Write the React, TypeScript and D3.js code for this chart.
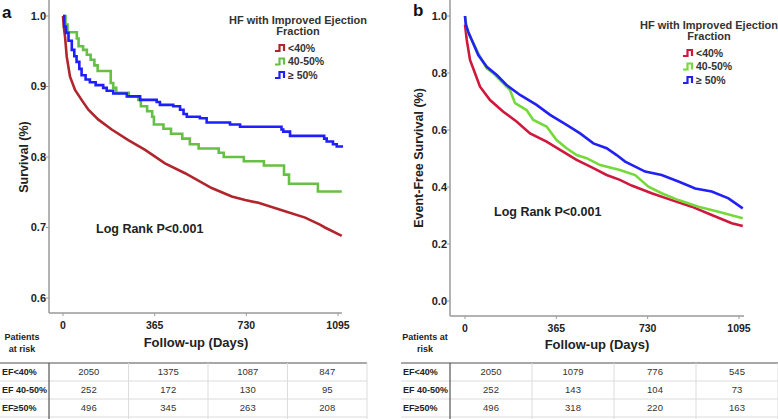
import * as React from 'react';
import * as d3 from 'd3';

type Pt = [number, number];

// follow-up ticks and labels
const dayTicks = [0, 365, 730, 1095];
const groupLabels = ['<40%', '40-50%', '\u2265 50%'];
const rowLabels = ['EF<40%', 'EF 40-50%', 'EF\u226550%'];
const survTicksA = [0.6, 0.7, 0.8, 0.9, 1.0];
const efsTicksB = [0, 0.2, 0.4, 0.6, 0.8, 1.0];

// panel a: overall survival
const survA_lt40: Pt[] = [
  [0, 1.0], [3, 0.985], [8, 0.971], [15, 0.942], [28, 0.914], [48, 0.895], [74, 0.881],
  [101, 0.867], [141, 0.853], [194, 0.839], [260, 0.824], [327, 0.81], [406, 0.791],
  [486, 0.777], [592, 0.756], [672, 0.744], [725, 0.739], [778, 0.735], [884, 0.723],
  [964, 0.714], [1023, 0.704], [1043, 0.7], [1110, 0.688],
];
const survA_40to50: Pt[] = [
  [0, 1.0], [10, 0.988], [18, 0.977], [55, 0.968], [62, 0.957], [80, 0.952], [95, 0.945],
  [110, 0.938], [125, 0.93], [138, 0.922], [190, 0.905], [200, 0.898], [212, 0.891],
  [262, 0.886], [300, 0.881], [310, 0.872], [335, 0.865], [355, 0.857], [362, 0.846],
  [400, 0.84], [430, 0.833], [475, 0.826], [505, 0.818], [540, 0.812], [620, 0.806],
  [640, 0.8], [720, 0.794], [800, 0.788], [880, 0.775], [900, 0.762], [1015, 0.751],
  [1110, 0.751],
];
const survA_ge50: Pt[] = [
  [0, 1.0], [5, 0.985], [12, 0.976], [22, 0.965], [35, 0.952], [45, 0.943], [54, 0.935],
  [65, 0.925], [74, 0.916], [90, 0.91], [107, 0.906], [130, 0.902], [160, 0.898],
  [174, 0.894], [200, 0.89], [254, 0.886], [307, 0.881], [373, 0.878], [386, 0.874],
  [439, 0.872], [466, 0.867], [480, 0.861], [493, 0.857], [545, 0.855], [572, 0.849],
  [665, 0.846], [705, 0.843], [870, 0.839], [877, 0.836], [904, 0.83], [1040, 0.826],
  [1050, 0.822], [1075, 0.818], [1090, 0.815], [1110, 0.813],
];

// panel b: event-free survival
const efsB_lt40: Pt[] = [
  [0, 0.97], [7, 0.916], [20, 0.846], [40, 0.799], [60, 0.752], [100, 0.705], [153, 0.664],
  [207, 0.629], [260, 0.588], [326, 0.559], [380, 0.53], [446, 0.495], [513, 0.466],
  [566, 0.442], [619, 0.425], [666, 0.405], [746, 0.378], [826, 0.354], [906, 0.331],
  [986, 0.302], [1066, 0.273], [1110, 0.263],
];
const efsB_40to50: Pt[] = [
  [0, 1.0], [5, 0.97], [13, 0.939], [27, 0.916], [60, 0.857], [87, 0.816], [113, 0.799],
  [153, 0.764], [180, 0.74], [200, 0.694], [246, 0.67], [273, 0.635], [326, 0.612],
  [366, 0.565], [406, 0.536], [446, 0.512], [486, 0.501], [540, 0.477], [619, 0.46],
  [680, 0.442], [733, 0.401], [786, 0.378], [853, 0.354], [933, 0.331], [1013, 0.313],
  [1110, 0.29],
];
const efsB_ge50: Pt[] = [
  [0, 1.0], [3, 0.97], [13, 0.945], [27, 0.916], [53, 0.863], [87, 0.822], [127, 0.793],
  [166, 0.758], [220, 0.723], [286, 0.688], [340, 0.653], [406, 0.618], [460, 0.588],
  [513, 0.553], [566, 0.536], [606, 0.512], [640, 0.489], [720, 0.454], [786, 0.442],
  [853, 0.419], [920, 0.395], [986, 0.384], [1053, 0.36], [1110, 0.325],
];

// patients at risk
const riskA_lt40 = [2050, 1375, 1087, 847];
const riskA_40to50 = [252, 172, 130, 95];
const riskA_ge50 = [496, 345, 263, 208];
const riskB_lt40 = [2050, 1079, 776, 545];
const riskB_40to50 = [252, 143, 104, 73];
const riskB_ge50 = [496, 318, 220, 163];

const font = '"Liberation Sans", Arial, Helvetica, sans-serif';
const txt = '#222';
const axisGray = '#9a9a9a';

interface Curve {
  data: Pt[];
  color: string;
  step: boolean;
}

interface PanelCfg {
  letter: string;
  letterPos: [number, number];
  yTitle: string;
  yTitlePos: [number, number];
  yDomain: [number, number];
  yRange: [number, number];
  yTicks: number[];
  xRange: [number, number];
  axisX: number;
  axisBottom: number;
  axisRight: number;
  curves: Curve[];
  legend: [number, number, number];
  logRank: [number, number];
  xTitle: [number, number];
  riskLines: string[];
  riskPos: [number, number];
  tableLeft: number;
  tableCol: number;
  tableRight: number;
  tableTop: number;
  risk: number[][];
}

const Panel = ({ cfg }: { cfg: PanelCfg }) => {
  const x = d3.scaleLinear().domain([0, 1095]).range(cfg.xRange);
  const y = d3.scaleLinear().domain(cfg.yDomain).range(cfg.yRange);
  const cols = d3.scaleBand<number>().domain([0, 1, 2, 3]).range([cfg.tableCol, cfg.tableRight]);
  const rows = d3.scaleBand<number>().domain([0, 1, 2]).range([cfg.tableTop, cfg.tableTop + 54]);
  const fmt = d3.format('.1f');
  const [lx, ly, ltx] = cfg.legend;

  return (
    <g fontFamily={font}>
      <text x={cfg.letterPos[0]} y={cfg.letterPos[1]} fontSize={17} fontWeight="bold" fill="#111">
        {cfg.letter}
      </text>

      {/* axes */}
      <line x1={cfg.axisX} x2={cfg.axisX} y1={0} y2={cfg.axisBottom} stroke={axisGray} strokeWidth={1.5} />
      <line x1={cfg.axisX} x2={cfg.axisRight} y1={cfg.axisBottom} y2={cfg.axisBottom} stroke={axisGray} strokeWidth={1.5} />
      {cfg.yTicks.map((t) => (
        <g key={t}>
          <line x1={cfg.axisX - 3} x2={cfg.axisX} y1={y(t)} y2={y(t)} stroke={axisGray} />
          <text x={cfg.axisX - 3} y={y(t)} dy="0.35em" textAnchor="end" fontSize={11} fontWeight="bold" fill={txt}>
            {fmt(t)}
          </text>
        </g>
      ))}
      {dayTicks.map((t) => (
        <g key={t}>
          <line x1={x(t)} x2={x(t)} y1={cfg.axisBottom} y2={cfg.axisBottom + 3} stroke={axisGray} />
          <text x={x(t)} y={cfg.axisBottom + 16} textAnchor="middle" fontSize={10.5} fontWeight="bold" fill={txt}>
            {t}
          </text>
        </g>
      ))}
      <text
        transform={`translate(${cfg.yTitlePos[0]},${cfg.yTitlePos[1]}) rotate(-90)`}
        textAnchor="middle"
        dy="0.35em"
        fontSize={12.5}
        fontWeight="bold"
        fill={txt}
      >
        {cfg.yTitle}
      </text>
      <text x={cfg.xTitle[0]} y={cfg.xTitle[1]} textAnchor="middle" dy="0.35em" fontSize={13} fontWeight="bold" fill={txt}>
        Follow-up (Days)
      </text>

      {/* curves */}
      {cfg.curves.map((c, i) => {
        const line = d3
          .line<Pt>()
          .x((d) => x(d[0]))
          .y((d) => y(d[1]))
          .curve(c.step ? d3.curveStepAfter : d3.curveLinear);
        return <path key={i} d={line(c.data) || ''} fill="none" stroke={c.color} strokeWidth={2.6} />;
      })}

      <text x={cfg.logRank[0]} y={cfg.logRank[1]} dy="0.35em" fontSize={12.5} fontWeight="bold" fill={txt}>
        Log Rank P&lt;0.001
      </text>

      {/* legend */}
      <text x={ltx} y={ly - 28} dy="0.35em" textAnchor="middle" fontSize={11} fontWeight="bold" fill="#333">
        HF with Improved Ejection
      </text>
      <text x={ltx} y={ly - 17} dy="0.35em" textAnchor="middle" fontSize={11} fontWeight="bold" fill="#333">
        Fraction
      </text>
      {cfg.curves.map((c, i) => {
        const yy = ly + i * 13.5;
        return (
          <g key={i}>
            <path
              d={`M${lx},${yy + 3}H${lx + 4.5}V${yy - 3}H${lx + 9}V${yy + 3}`}
              fill="none"
              stroke={c.color}
              strokeWidth={2.2}
            />
            <text x={lx + 13} y={yy} dy="0.35em" fontSize={10.5} fontWeight="bold" fill="#333">
              {groupLabels[i]}
            </text>
          </g>
        );
      })}

      {/* patients at risk */}
      {cfg.riskLines.map((s, i) => (
        <text key={i} x={cfg.riskPos[0]} y={cfg.riskPos[1] + i * 11.5} dy="0.35em" textAnchor="middle" fontSize={9} fontWeight="bold" fill={txt}>
          {s}
        </text>
      ))}
      <line x1={cfg.tableLeft} x2={cfg.tableRight} y1={cfg.tableTop} y2={cfg.tableTop} stroke="#8a8a8a" strokeWidth={1.4} />
      {[1, 2, 3].map((r) => (
        <line key={r} x1={cfg.tableLeft} x2={cfg.tableRight} y1={cfg.tableTop + r * 18} y2={cfg.tableTop + r * 18} stroke="#dcdcdc" />
      ))}
      {[1, 2, 3, 4].map((c) => (
        <line key={c} x1={cfg.tableCol + c * cols.bandwidth()} x2={cfg.tableCol + c * cols.bandwidth()} y1={cfg.tableTop} y2={cfg.tableTop + 56} stroke="#dcdcdc" />
      ))}
      <line x1={cfg.tableCol} x2={cfg.tableCol} y1={cfg.tableTop} y2={cfg.tableTop + 56} stroke="#555" strokeWidth={1.2} />
      {rowLabels.map((r, i) => (
        <g key={r}>
          <text x={cfg.tableLeft + 2} y={(rows(i) || 0) + rows.bandwidth() / 2} dy="0.35em" fontSize={9} fontWeight="bold" fill={txt}>
            {r}
          </text>
          {cfg.risk[i].map((v, j) => (
            <text key={j} x={(cols(j) || 0) + cols.bandwidth() / 2} y={(rows(i) || 0) + rows.bandwidth() / 2} dy="0.35em" textAnchor="middle" fontSize={9.5} fill="#333">
              {v}
            </text>
          ))}
        </g>
      ))}
    </g>
  );
};

const panelA: PanelCfg = {
  letter: 'a',
  letterPos: [2, 18],
  yTitle: 'Survival (%)',
  yTitlePos: [24, 157],
  yDomain: [0.6, 1.0],
  yRange: [298, 16],
  yTicks: survTicksA,
  xRange: [63, 338],
  axisX: 49,
  axisBottom: 313,
  axisRight: 342,
  curves: [
    { data: survA_lt40, color: '#b0262c', step: false },
    { data: survA_40to50, color: '#66c044', step: true },
    { data: survA_ge50, color: '#1e1eff', step: true },
  ],
  legend: [275, 48, 298],
  logRank: [96, 229],
  xTitle: [196, 342],
  riskLines: ['Patients', 'at risk'],
  riskPos: [22, 337],
  tableLeft: 0,
  tableCol: 49,
  tableRight: 367,
  tableTop: 363,
  risk: [riskA_lt40, riskA_40to50, riskA_ge50],
};

const panelB: PanelCfg = {
  letter: 'b',
  letterPos: [413, 16],
  yTitle: 'Event-Free Survival (%)',
  yTitlePos: [419, 158],
  yDomain: [0, 1.0],
  yRange: [301, 16],
  yTicks: efsTicksB,
  xRange: [465, 739],
  axisX: 450,
  axisBottom: 316,
  axisRight: 744,
  curves: [
    { data: efsB_lt40, color: '#d0173c', step: false },
    { data: efsB_40to50, color: '#74d93a', step: false },
    { data: efsB_ge50, color: '#2121f5', step: false },
  ],
  legend: [683, 53, 709],
  logRank: [494, 212],
  xTitle: [597, 344],
  riskLines: ['Patients at', 'risk'],
  riskPos: [425, 337],
  tableLeft: 401,
  tableCol: 450,
  tableRight: 778,
  tableTop: 363,
  risk: [riskB_lt40, riskB_40to50, riskB_ge50],
};

export default function App() {
  return (
    <svg
      width={778}
      height={419}
      style={{ position: 'absolute', left: 0, top: 0, background: '#fff' }}
    >
      <rect width={778} height={419} fill="#fff" />
      <Panel cfg={panelA} />
      <Panel cfg={panelB} />
    </svg>
  );
}
